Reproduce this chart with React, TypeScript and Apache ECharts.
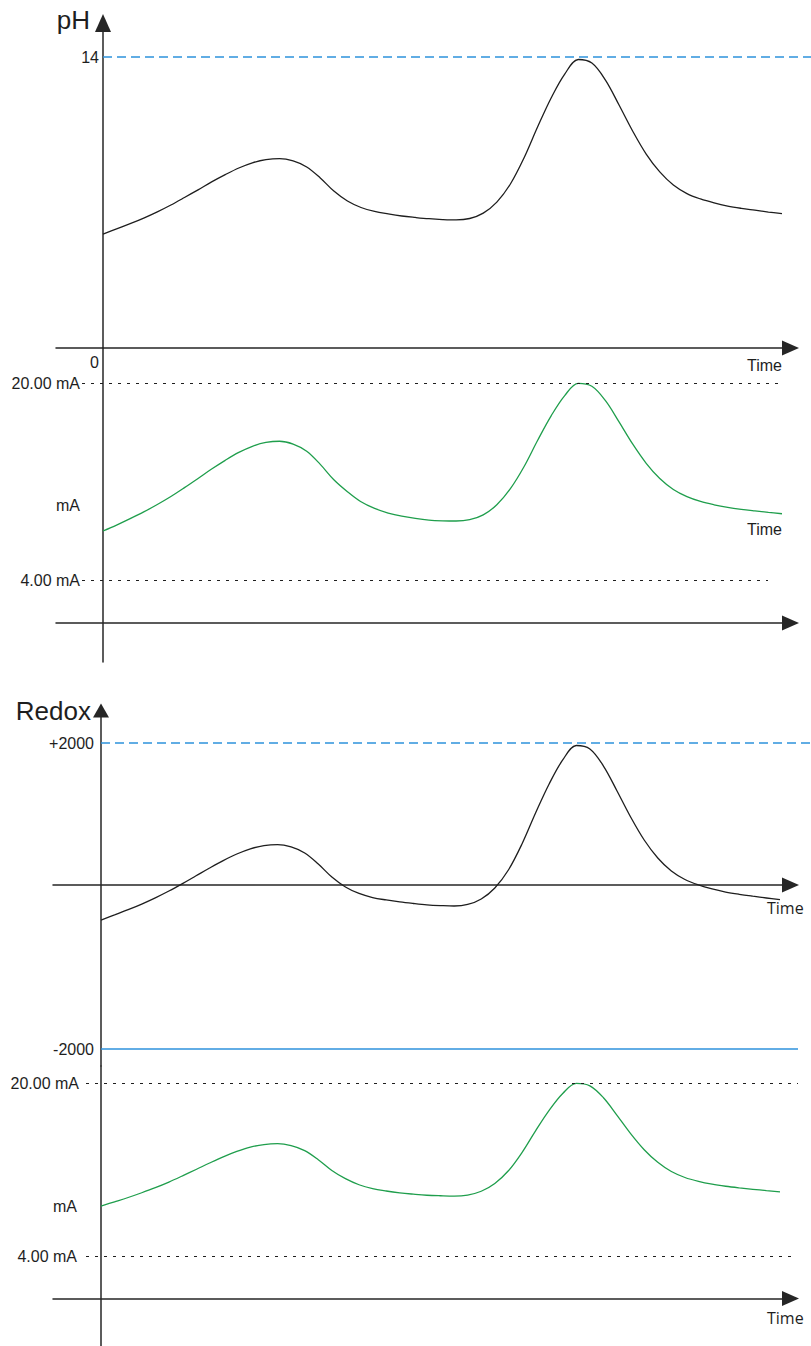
import { useEffect, useRef } from 'react';
import * as echarts from 'echarts';

// ---------------- data ----------------
const timePoints = [0, 2, 4, 6, 8, 10, 12, 14, 16, 18, 20, 22, 24, 26, 28, 30, 32, 34, 36, 38, 40, 42, 44, 46, 48, 50, 52, 54, 56, 58, 60, 62, 64, 66, 68, 70, 72, 74, 76, 78, 80, 82, 84, 86, 88, 90, 92, 94, 96, 98, 100];
const phValues = [5.48, 5.73, 5.98, 6.25, 6.55, 6.88, 7.24, 7.61, 7.99, 8.34, 8.66, 8.91, 9.06, 9.11, 9.00, 8.71, 8.18, 7.55, 7.07, 6.76, 6.57, 6.45, 6.35, 6.28, 6.22, 6.18, 6.16, 6.23, 6.49, 7.02, 7.89, 9.14, 10.63, 12.03, 13.18, 13.88, 13.71, 12.89, 11.69, 10.44, 9.33, 8.47, 7.84, 7.43, 7.17, 6.98, 6.83, 6.72, 6.63, 6.54, 6.46];
const phCurrentMA = [7.98, 8.46, 8.98, 9.53, 10.13, 10.78, 11.50, 12.25, 13.01, 13.72, 14.36, 14.86, 15.17, 15.27, 15.04, 14.46, 13.39, 12.14, 11.17, 10.35, 9.81, 9.44, 9.18, 9.00, 8.87, 8.81, 8.79, 8.90, 9.29, 10.11, 11.42, 13.20, 15.33, 17.33, 18.98, 19.97, 19.73, 18.56, 16.84, 15.05, 13.48, 12.24, 11.35, 10.77, 10.38, 10.11, 9.90, 9.74, 9.61, 9.49, 9.38];
const redoxValues = [-314, -248, -179, -105, -24, 65, 162, 264, 366, 463, 549, 617, 659, 672, 641, 562, 418, 248, 118, 33, -20, -52, -78, -98, -115, -125, -131, -111, -39, 105, 340, 680, 1085, 1464, 1778, 1967, 1922, 1699, 1373, 1033, 732, 497, 327, 216, 144, 92, 52, 22, -3, -26, -48];
const redoxCurrentMA = [8.62, 9.01, 9.41, 9.85, 10.32, 10.84, 11.41, 12.00, 12.60, 13.17, 13.67, 14.07, 14.31, 14.39, 14.21, 13.75, 12.91, 11.91, 11.15, 10.59, 10.23, 10.01, 9.84, 9.72, 9.62, 9.57, 9.54, 9.64, 9.99, 10.71, 11.88, 13.57, 15.58, 17.47, 19.03, 19.97, 19.74, 18.64, 17.01, 15.32, 13.83, 12.66, 11.81, 11.26, 10.90, 10.64, 10.45, 10.30, 10.17, 10.05, 9.94];
const phTickLabels = [14];
const phOriginLabel = [0];
const redoxTickLabels = [2000, -2000];
const currentLimits = [20, 4];
const timeName = 'Time';

// ---------------- layout ----------------
const W = 811;
const H = 1346;
const PX_PER_T = 6.79;
const PH_X0 = 103;
const RX_X0 = 101;
const ARROW_END = 790.5;
const FONT = "'Liberation Sans', Arial, Helvetica, sans-serif";
const FONT_ALT = "'Open Sans', 'DejaVu Sans', sans-serif";
const INK = '#1e1e1e';
const AXIS_INK = '#262626';
const GREEN = '#1f9e4c';
const BLUE = '#2e92dc';

const linRange = (top: number, bottom: number, v1: number, y1: number, v2: number, y2: number) => {
  const k = (v1 - v2) / (y2 - y1);
  return { max: v1 + (y1 - top) * k, min: v2 - (bottom - y2) * k };
};
const tAt = (x: number, x0: number) => (x - x0) / PX_PER_T;

const phY = linRange(23, 348, 14, 57, 0, 348);
const ma1Y = linRange(348, 662, 20, 383, 4, 580);
const rxY = linRange(710.5, 1066, 2000, 743, -2000, 1049);
const ma2Y = linRange(1066, 1346, 20, 1083, 4, 1256);

const pairs = (ys: number[]) => timePoints.map((t, i) => [t, ys[i]]);
const axisLineStyle = { color: AXIS_INK, width: 1.5 };

const grid = (top: number, height: number, left = 0, right = 0) => ({
  left, right, top, height, containLabel: false, outerBoundsMode: 'none',
});

const dataX = (gridIndex: number, x0: number) => ({
  type: 'value', gridIndex, min: tAt(0, x0), max: tAt(W, x0), show: false,
  axisLine: { onZero: false }, splitLine: { show: false },
});

const timeX = (gridIndex: number, x0: number, left: number, extra: any = {}) => ({
  type: 'value', gridIndex, position: 'bottom', min: tAt(left, x0), max: tAt(ARROW_END, x0),
  axisLine: { show: true, onZero: false, symbol: ['none', 'triangle'], symbolSize: [15, 17], lineStyle: axisLineStyle },
  axisTick: { show: false }, splitLine: { show: false }, axisLabel: { show: false },
  nameMoveOverlap: false,
  ...extra,
});

const hiddenY = (gridIndex: number) => ({ type: 'value', gridIndex, min: 0, max: 1, show: false });

const valueY = (gridIndex: number, x0: number, range: { min: number; max: number }, extra: any) => ({
  type: 'value', gridIndex, position: 'left', offset: -x0, min: range.min, max: range.max,
  axisTick: { show: false }, splitLine: { show: false }, nameMoveOverlap: false,
  ...extra,
});

const limitLabel = (v: number) => `${v.toFixed(2)} mA`;

const curve = (name: string, idx: number, values: number[], color: string) => ({
  type: 'line', name, xAxisIndex: idx, yAxisIndex: idx, data: pairs(values),
  smooth: 0.35, symbol: 'none', silent: true, lineStyle: { color, width: 1.3 },
});

const refLine = (name: string, idx: number, value: number, tEnd: number, type: any) => ({
  type: 'line', name, xAxisIndex: idx, yAxisIndex: idx, data: [[0, value], [tEnd, value]],
  symbol: 'none', silent: true, clip: false, z: 1,
  lineStyle: { color: BLUE, width: 1.5, type },
});

const limitMarks = (startT: number, endTs: number[], distances: number[]) => ({
  symbol: 'none', silent: true,
  lineStyle: { color: INK, width: 1.2, type: [3, 6] },
  label: { show: true, position: 'start', formatter: '{b}', fontSize: 16, color: INK, fontFamily: FONT },
  data: currentLimits.map((v, i) => [
    { name: limitLabel(v), coord: [startT, v], label: { distance: distances[i] } },
    { coord: [endTs[i], v] },
  ]),
});

export default function App() {
  const ref = useRef<HTMLDivElement>(null);
  useEffect(() => {
    if (!ref.current) return;
    const chart = echarts.init(ref.current, null, { renderer: 'svg' });
    const option: any = {
      animation: false,
      textStyle: { fontFamily: FONT },
      grid: [
        grid(23, 325),
        grid(338, 10, 56, W - ARROW_END),
        grid(348, 314),
        grid(613, 10, 56, W - ARROW_END),
        grid(710.5, 355.5),
        grid(875, 10, 53, W - ARROW_END),
        grid(1066, 280),
        grid(1288.5, 10, 53, W - ARROW_END),
      ],
      xAxis: [
        dataX(0, PH_X0),
        timeX(1, PH_X0, 56, {
          axisLabel: {
            show: true, customValues: phOriginLabel, formatter: (v: number) => String(v),
            align: 'right', padding: [0, 4, 0, 0], margin: 6, fontSize: 16, color: INK, fontFamily: FONT,
          },
          name: timeName, nameLocation: 'end', nameGap: -8.5,
          nameTextStyle: { fontSize: 16, color: INK, fontFamily: FONT, align: 'right', verticalAlign: 'top', padding: [9, 0, 0, 0] },
        }),
        dataX(2, PH_X0),
        timeX(3, PH_X0, 56),
        dataX(4, RX_X0),
        timeX(5, RX_X0, 53, {
          name: timeName, nameLocation: 'end', nameGap: -23.5,
          nameTextStyle: { fontSize: 16, color: INK, fontFamily: FONT_ALT, align: 'left', verticalAlign: 'top', padding: [15, 0, 0, 0] },
        }),
        dataX(6, RX_X0),
        timeX(7, RX_X0, 53, {
          name: timeName, nameLocation: 'end', nameGap: -23.5,
          nameTextStyle: { fontSize: 16, color: INK, fontFamily: FONT_ALT, align: 'left', verticalAlign: 'top', padding: [11, 0, 0, 0] },
        }),
      ],
      yAxis: [
        valueY(0, PH_X0, phY, {
          axisLine: { show: true, onZero: false, symbol: ['none', 'triangle'], symbolSize: [16, 18], lineStyle: axisLineStyle },
          axisLabel: { customValues: phTickLabels, margin: 4, fontSize: 16, color: INK, fontFamily: FONT },
          name: 'pH', nameLocation: 'end', nameGap: 3,
          nameTextStyle: { fontSize: 26, color: INK, fontFamily: FONT, align: 'right', verticalAlign: 'middle', padding: [0, 13, 0, 0] },
        }),
        hiddenY(1),
        valueY(2, PH_X0, ma1Y, {
          axisLine: { show: true, onZero: false, lineStyle: axisLineStyle },
          axisLabel: { show: false },
          name: 'mA', nameLocation: 'middle', nameRotate: 0, nameGap: 23,
          nameTextStyle: { fontSize: 16, color: INK, fontFamily: FONT, padding: [10, 0, 0, 0] },
        }),
        hiddenY(3),
        valueY(4, RX_X0, rxY, {
          axisLine: { show: true, onZero: false, symbol: ['none', 'triangle'], symbolSize: [16, 14], lineStyle: axisLineStyle },
          axisLabel: {
            customValues: redoxTickLabels, formatter: (v: number) => (v > 0 ? '+' : '') + v,
            margin: 7, fontSize: 16, color: INK, fontFamily: FONT,
          },
          name: 'Redox', nameLocation: 'end', nameGap: 0,
          nameTextStyle: { fontSize: 26, color: INK, fontFamily: FONT, align: 'right', verticalAlign: 'middle', padding: [0, 10, 0, 0] },
        }),
        hiddenY(5),
        valueY(6, RX_X0, ma2Y, {
          axisLine: { show: true, onZero: false, lineStyle: axisLineStyle },
          axisLabel: { show: false },
          name: 'mA', nameLocation: 'middle', nameRotate: 0, nameGap: 24,
          nameTextStyle: { fontSize: 16, color: INK, fontFamily: FONT, padding: [0, 0, 30, 0] },
        }),
        hiddenY(7),
      ],
      series: [
        refLine('pH 14', 0, phTickLabels[0], tAt(W, PH_X0), [9, 5]),
        curve('pH', 0, phValues, INK),
        {
          ...curve('pH current', 2, phCurrentMA, GREEN),
          markLine: limitMarks(tAt(82, PH_X0), [tAt(782, PH_X0), tAt(768, PH_X0)], [2, 2]),
        },
        refLine('Redox +2000', 4, redoxTickLabels[0], tAt(W, RX_X0), [9, 5]),
        refLine('Redox -2000', 4, redoxTickLabels[1], tAt(798, RX_X0), 'solid'),
        curve('Redox', 4, redoxValues, INK),
        {
          ...curve('Redox current', 6, redoxCurrentMA, GREEN),
          markLine: limitMarks(tAt(86, RX_X0), [tAt(798, RX_X0), tAt(795, RX_X0)], [7, 9]),
        },
      ],
      graphic: [
        {
          type: 'text', right: W - 782, top: 521, silent: true,
          style: { text: timeName, fontSize: 16, fontFamily: FONT, fill: INK },
        },
      ],
    };
    chart.setOption(option);
    return () => chart.dispose();
  }, []);
  return <div ref={ref} style={{ position: 'absolute', left: 0, top: 0, width: W, height: H }} />;
}
